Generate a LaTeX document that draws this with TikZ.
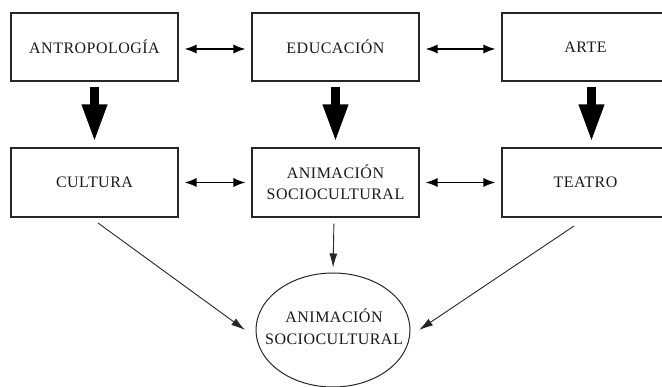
\documentclass[tikz,border=0pt]{standalone}
\usepackage{fontspec}
\setmainfont{Liberation Serif}
\newfontfamily\boxfont[LetterSpace=3]{Liberation Serif}
\usetikzlibrary{arrows.meta,shapes.geometric}
\begin{document}
\begin{tikzpicture}[x=1pt,y=-1pt,
  boxnode/.style={draw=black!85,line width=1.1pt,rectangle,minimum width=167pt,inner sep=0pt,
     font=\boxfont\fontsize{16}{21}\selectfont,align=center,text=black!90},
  toprow/.style={boxnode,minimum height=68pt},
  botrow/.style={boxnode,minimum height=69pt},
  ellnode/.style={draw=black!85,line width=1pt,ellipse,minimum width=154pt,minimum height=114pt,inner sep=0pt},
  elltext/.style={inner sep=0pt,font=\boxfont\fontsize{16}{22}\selectfont,align=center,text=black!90},
  bigarrow/.style={line width=9pt,black,-{Triangle[length=38pt,width=23pt]}},
  dblarrow/.style={line width=1.3pt,black,{Latex[length=12pt,width=9pt]}-{Latex[length=12pt,width=9pt]},shorten <=6pt,shorten >=6pt},
  thinarrow/.style={line width=0.9pt,black!85,-{Latex[length=14pt,width=8pt]}}]
\useasboundingbox (0,0) rectangle (662,387);
\clip (0,0) rectangle (662,387);
% top row
\node[toprow] (ant) at (94.5,47) {ANTROPOLOGÍA};
\node[toprow] (edu) at (335.5,47) {EDUCACIÓN};
\node[toprow] (arte) at (585.5,47) {ARTE};
% bottom row
\node[botrow] (cul) at (94.5,182.5) {CULTURA};
\node[botrow] (anim) at (335.5,182.5) {ANIMACIÓN\\SOCIOCULTURAL};
\node[botrow] (tea) at (585.5,182.5) {TEATRO};
% ellipse
\node[ellnode] (ell) at (333,330) {};
\node[elltext] (elltxt) at (334,327) {ANIMACIÓN\\SOCIOCULTURAL};
% thick arrows
\draw[bigarrow,shorten <=5pt,shorten >=5pt] (ant.south) -- (cul.north);
\draw[bigarrow,shorten <=5pt,shorten >=5pt] (edu.south) -- (anim.north);
\draw[bigarrow,shorten <=5pt,shorten >=5pt] ([xshift=6pt]arte.south) -- ([xshift=6pt]tea.north);
% double arrows
\draw[dblarrow] ([yshift=-2pt]ant.east) -- ([yshift=-2pt]edu.west);
\draw[dblarrow] ([yshift=-2pt]edu.east) -- ([yshift=-2pt]arte.west);
\draw[dblarrow] (cul.east) -- (anim.west);
\draw[dblarrow] (anim.east) -- (tea.west);
% thin arrows
\coordinate (c1) at (98,223);
\coordinate (e1) at (245,330);
\coordinate (t1) at (574,226);
\coordinate (e2) at (419,330);
\draw[thinarrow] (c1) -- (e1);
\draw[thinarrow] (t1) -- (e2);
\draw[thinarrow,shorten <=6pt,shorten >=5pt] ([xshift=-1.5pt]anim.south) -- (ell.north);
\end{tikzpicture}
\end{document}
